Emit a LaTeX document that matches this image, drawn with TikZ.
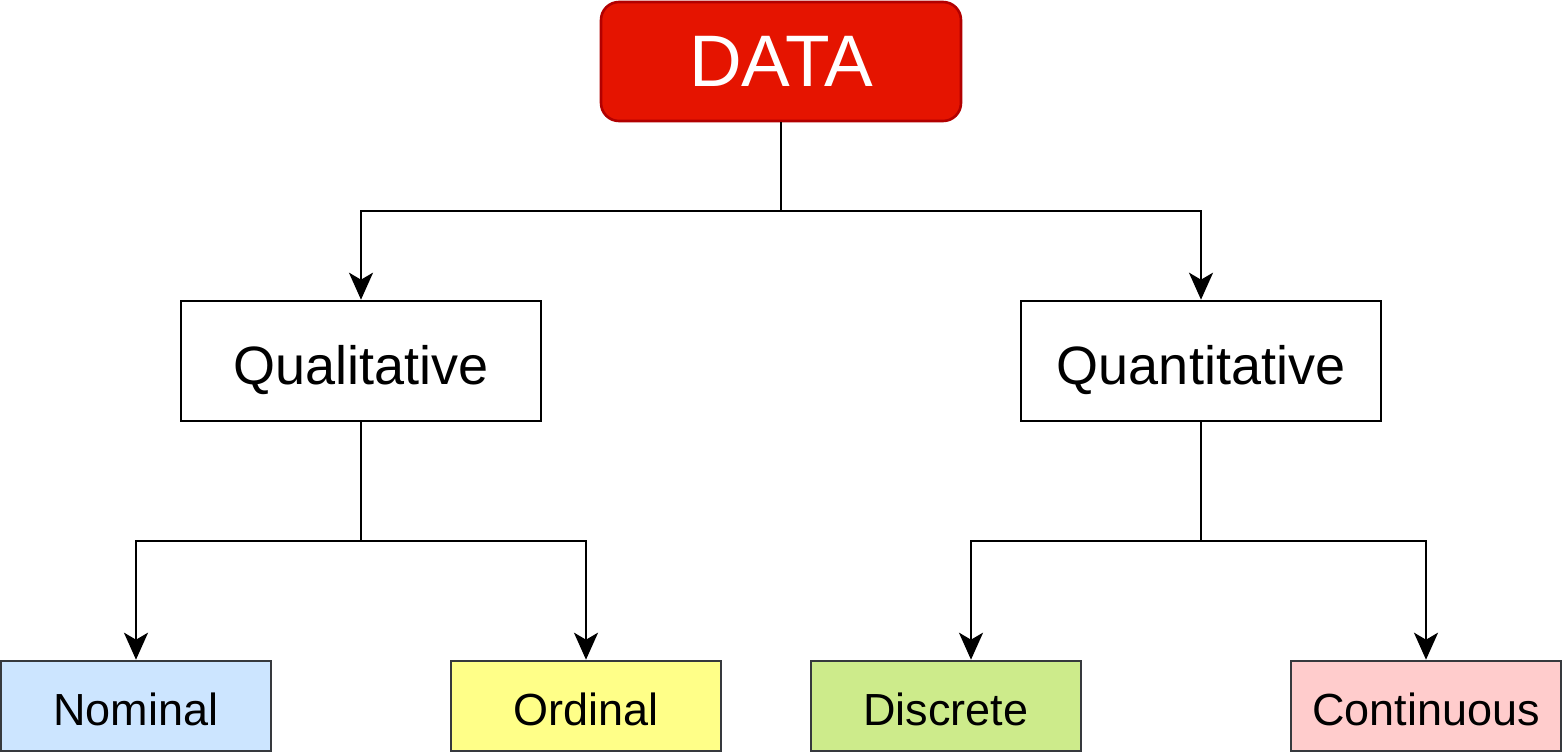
\documentclass[tikz,border=0pt]{standalone}
\usepackage{fontspec}
\setmainfont{Liberation Sans}
\usetikzlibrary{arrows.meta}
\definecolor{datared}{HTML}{E51400}
\definecolor{dataedge}{HTML}{B20000}
\definecolor{leafedge}{HTML}{36393D}
\definecolor{nomblue}{HTML}{CCE5FF}
\definecolor{ordyellow}{HTML}{FFFF88}
\definecolor{discgreen}{HTML}{CDEB8B}
\definecolor{contpink}{HTML}{FFCCCC}
\tikzset{
  rootbox/.style={draw=dataedge, fill=datared, text=white, rounded corners=18pt, minimum width=360pt, minimum height=119pt, inner sep=0pt, font=\fontsize{73}{86}\selectfont, text height=49pt, text depth=0pt},
  typebox/.style={draw=black, fill=white, minimum width=360pt, minimum height=120pt, inner sep=0pt, font=\fontsize{54}{64}\selectfont, text height=46pt, text depth=0pt},
  leafbox/.style={draw=leafedge, minimum width=270pt, minimum height=90pt, inner sep=0pt, font=\fontsize{45}{54}\selectfont, text height=38pt, text depth=0pt},
  branch/.style={-{Stealth[length=27pt, width=24pt, inset=7pt]}}
}
\begin{document}
\begin{tikzpicture}[x=1pt, y=-1pt, line width=2.6pt]
            \useasboundingbox (0,0) rectangle (1563,753);
            \node [rootbox] (Data) at (781,61.5) {DATA};
            \node [typebox] (Qual) at (361,361) {Qualitative};
            \node [typebox] (Quant) at (1201,361) {Quantitative};
            \node [leafbox, fill=nomblue] (Nom) at (136,706) {Nominal};
            \node [leafbox, fill=ordyellow] (Ord) at (586,706) {Ordinal};
            \node [leafbox, fill=discgreen] (Disc) at (946,706) {Discrete};
            \node [leafbox, fill=contpink] (Cont) at (1426,706) {Continuous};
            \coordinate (DataJoin) at (781,211);
            \coordinate (QualJoin) at (361,541);
            \coordinate (QuantJoin) at (1201,541);
            \draw (Data.south) -- (DataJoin);
            \draw [branch] (DataJoin) -| (Qual.north);
            \draw [branch] (DataJoin) -| (Quant.north);
            \draw (Qual.south) -- (QualJoin);
            \draw [branch] (QualJoin) -| (Nom.north);
            \draw [branch] (QualJoin) -| (Ord.north);
            \draw (Quant.south) -- (QuantJoin);
            \draw [branch] (QuantJoin) -| ([xshift=25pt]Disc.north);
            \draw [branch] (QuantJoin) -| (Cont.north);
        \end{tikzpicture}
\end{document}
